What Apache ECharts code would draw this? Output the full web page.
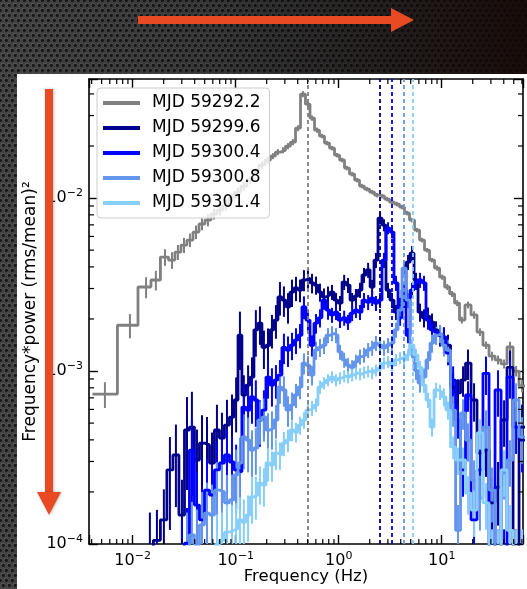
<!DOCTYPE html>
<html>
<head>
<meta charset="utf-8">
<script src="https://cdn.jsdelivr.net/npm/echarts@6/dist/echarts.min.js"></script>
<style>
  html, body { margin: 0; padding: 0; background: #2a2a2a; }
  #chart { width: 527px; height: 589px; }
</style>
</head>
<body>
<div id="chart"></div>
<script>
// ---- Power spectra (frequency * power, (rms/mean)^2) ----
const seriesNames = ['MJD 59292.2', 'MJD 59299.6', 'MJD 59300.4', 'MJD 59300.8', 'MJD 59301.4'];
const seriesColors = ['#808080', '#00008b', '#0000ff', '#6495ed', '#87cefa'];
// QPO centroid frequencies (Hz), one per observation
const qpoFreq = [0.503, 2.52, 3.27, 4.30, 5.22];

// First observation: its own frequency bins
const freqGray = [0.00538, 0.00941, 0.0135, 0.0168, 0.0206, 0.0241, 0.0275, 0.0315, 0.0360, 0.0412,
  0.0471, 0.0538, 0.0616, 0.0704, 0.0805, 0.0921, 0.105, 0.120, 0.138, 0.157,
  0.180, 0.206, 0.230, 0.257, 0.288, 0.322, 0.360, 0.403, 0.450, 0.503,
  0.551, 0.616, 0.688, 0.770, 0.861, 0.963, 1.08, 1.20, 1.35, 1.51,
  1.68, 1.88, 2.11, 2.35, 2.63, 2.94, 3.29, 3.68, 4.12, 4.60,
  5.15, 5.76, 6.44, 7.20, 8.05, 9.00, 10.1, 11.3, 12.6, 14.1,
  15.7, 18.0, 20.6, 23.5, 26.9, 30.8, 35.2, 40.3, 46.0, 52.7, 60.2];
const powGray = [7.36e-4, 1.84e-3, 3.06e-3, 3.36e-3, 4.56e-3, 4.38e-3, 4.87e-3, 5.35e-3, 5.72e-3, 6.36e-3,
  7.08e-3, 7.46e-3, 8.08e-3, 8.52e-3, 9.11e-3, 1.00e-2, 1.083e-2, 1.173e-2, 1.27e-2, 1.414e-2,
  1.55e-2, 1.66e-2, 1.749e-2, 1.845e-2, 1.89e-2, 1.998e-2, 2.107e-2, 2.538e-2, 3.99e-2, 3.49e-2,
  2.90e-2, 2.47e-2, 2.283e-2, 2.079e-2, 1.945e-2, 1.77e-2, 1.66e-2, 1.491e-2, 1.376e-2, 1.27e-2,
  1.173e-2, 1.127e-2, 1.083e-2, 1.04e-2, 1.027e-2, 9.87e-3, 9.48e-3, 9.23e-3, 8.87e-3, 8.19e-3,
  7.46e-3, 6.53e-3, 5.72e-3, 5.00e-3, 4.38e-3, 3.94e-3, 3.49e-3, 3.06e-3, 2.79e-3, 2.47e-3,
  1.97e-3, 2.41e-3, 2.11e-3, 1.68e-3, 1.41e-3, 1.22e-3, 1.16e-3, 1.10e-3, 1.38e-3, 1.00e-3, 8.2e-4];
// fractional 1-sigma errors
const errGray = [0.17, 0.16, 0.14, 0.13, 0.11, 0.11, 0.10, 0.10, 0.09, 0.09,
  0.08, 0.08, 0.07, 0.07, 0.07, 0.06, 0.06, 0.06, 0.05, 0.05,
  0.05, 0.05, 0.04, 0.04, 0.04, 0.04, 0.04, 0.04, 0.04, 0.04,
  0.035, 0.035, 0.03, 0.03, 0.03, 0.03, 0.03, 0.03, 0.03, 0.03,
  0.03, 0.03, 0.03, 0.03, 0.03, 0.03, 0.03, 0.03, 0.03, 0.03,
  0.03, 0.03, 0.03, 0.03, 0.03, 0.035, 0.035, 0.04, 0.04, 0.04,
  0.045, 0.045, 0.05, 0.05, 0.05, 0.06, 0.06, 0.06, 0.07, 0.07, 0.08];

// Later observations share one frequency grid
const freqBins = [0.0147, 0.0172, 0.0201, 0.0230, 0.0263, 0.0301, 0.0337, 0.0376, 0.0421, 0.0471,
  0.0527, 0.0589, 0.0658, 0.0736, 0.0823, 0.0921, 0.101, 0.110, 0.120, 0.132,
  0.144, 0.157, 0.172, 0.188, 0.206, 0.225, 0.246, 0.269, 0.294, 0.322,
  0.352, 0.385, 0.421, 0.460, 0.503, 0.551, 0.602, 0.658, 0.720, 0.787,
  0.861, 0.941, 1.03, 1.13, 1.23, 1.35, 1.47, 1.61, 1.76, 1.93,
  2.11, 2.30, 2.52, 2.75, 3.01, 3.29, 3.60, 3.94, 4.31, 4.71,
  5.15, 5.63, 6.16, 6.73, 7.36, 8.05, 8.81, 9.63, 10.5, 11.5,
  12.9, 14.4, 16.1, 18.0, 20.6, 23.5, 26.9, 30.8, 35.2, 40.3,
  46.0, 52.7, 60.2];

const powNavy = [9.5e-5, 1.05e-4, 1.38e-4, 2.68e-4, 3.27e-4, 1.47e-4, 4.56e-4, 4.74e-4, 3.06e-4, 3.83e-4,
  3.74e-4, 2.94e-4, 4.56e-4, 4.10e-4, 4.87e-4, 5.42e-4, 6.80e-4, 1.61e-3, 7.27e-4, 8.30e-4,
  9.23e-4, 1.73e-3, 1.89e-3, 1.37e-3, 1.41e-3, 1.73e-3, 1.97e-3, 2.68e-3, 2.57e-3, 2.35e-3,
  2.86e-3, 3.02e-3, 2.94e-3, 3.36e-3, 3.45e-3, 3.23e-3, 3.14e-3, 2.86e-3, 2.68e-3, 2.75e-3,
  2.86e-3, 2.57e-3, 2.47e-3, 3.27e-3, 3.14e-3, 2.57e-3, 2.71e-3, 2.94e-3, 3.59e-3, 3.84e-3,
  3.06e-3, 4.38e-3, 7.66e-3, 6.98e-3, 2.94e-3, 2.57e-3, 2.19e-3, 2.41e-3, 2.57e-3, 4.26e-3,
  4.80e-3, 3.36e-3, 2.19e-3, 2.03e-3, 2.08e-3, 1.92e-3, 1.73e-3, 1.61e-3, 1.55e-3, 1.41e-3,
  8.08e-4, 7.47e-4, 8.87e-4, 1.11e-3, 6.80e-4, 3.35e-4, 3.49e-4, 1.73e-4, 2.13e-4, 5.21e-4,
  1.05e-3, 8.1e-5, 4.74e-4];
const errNavy = [0.6, 0.5, 0.5, 0.55, 0.5, 0.6, 0.55, 0.6, 0.5, 0.45,
  0.45, 0.5, 0.4, 0.4, 0.4, 0.35, 0.35, 0.37, 0.3, 0.3,
  0.3, 0.3, 0.25, 0.25, 0.25, 0.22, 0.22, 0.22, 0.2, 0.2,
  0.18, 0.16, 0.15, 0.14, 0.13, 0.13, 0.12, 0.12, 0.12, 0.12,
  0.1, 0.1, 0.1, 0.1, 0.1, 0.1, 0.1, 0.1, 0.1, 0.1,
  0.1, 0.1, 0.08, 0.08, 0.1, 0.1, 0.1, 0.1, 0.1, 0.1,
  0.1, 0.1, 0.12, 0.12, 0.12, 0.12, 0.12, 0.14, 0.15, 0.15,
  0.2, 0.2, 0.2, 0.2, 0.25, 0.3, 0.3, 0.4, 0.4, 0.3,
  0.25, 0.5, 0.35];

const powBlue = [null, null, null, null, null, 8.6e-5, 1.01e-4, 3.49e-4, 1.68e-4, 1.38e-4,
  2.05e-4, 1.92e-4, 2.68e-4, 2.94e-4, 3.27e-4, 2.98e-4, 2.68e-4, 2.61e-4, 6.19e-4, 5.95e-4,
  7.08e-4, 6.80e-4, 5.21e-4, 5.95e-4, 9.23e-4, 8.30e-4, 8.87e-4, 9.48e-4, 1.37e-3, 1.32e-3,
  1.41e-3, 1.51e-3, 1.61e-3, 2.35e-3, 1.97e-3, 1.41e-3, 1.89e-3, 2.03e-3, 2.57e-3, 2.25e-3,
  2.11e-3, 2.19e-3, 1.97e-3, 2.03e-3, 1.92e-3, 2.16e-3, 2.25e-3, 2.19e-3, 2.57e-3, 2.50e-3,
  2.64e-3, 2.47e-3, 2.57e-3, 4.38e-3, 6.71e-3, 6.36e-3, 3.23e-3, 2.03e-3, 2.94e-3, 1.61e-3,
  2.94e-3, 3.27e-3, 3.36e-3, 3.23e-3, 1.97e-3, 1.73e-3, 1.68e-3, 1.61e-3, 1.57e-3, 1.27e-3,
  8.87e-4, 5.21e-4, 2.68e-4, 7.27e-4, 1.38e-4, 2.68e-4, 9.7e-4, 8.1e-5, 7.77e-4, 8.1e-5,
  9.23e-4, 4.74e-4, 3.99e-4];
const errBlue = [null, null, null, null, null, 0.6, 0.6, 0.5, 0.55, 0.55,
  0.5, 0.5, 0.45, 0.45, 0.4, 0.4, 0.4, 0.4, 0.35, 0.35,
  0.3, 0.3, 0.3, 0.3, 0.25, 0.25, 0.22, 0.22, 0.2, 0.2,
  0.18, 0.17, 0.16, 0.15, 0.14, 0.14, 0.13, 0.12, 0.12, 0.12,
  0.1, 0.1, 0.1, 0.1, 0.1, 0.1, 0.1, 0.1, 0.1, 0.1,
  0.1, 0.1, 0.1, 0.1, 0.08, 0.08, 0.1, 0.1, 0.1, 0.1,
  0.1, 0.1, 0.1, 0.1, 0.12, 0.12, 0.12, 0.13, 0.14, 0.15,
  0.2, 0.22, 0.3, 0.2, 0.35, 0.3, 0.25, 0.5, 0.3, 0.5,
  0.25, 0.3, 0.35];

const powCorn = [null, null, null, null, null, null, 9.5e-5, 1.13e-4, 9.9e-5, 1.29e-4,
  1.51e-4, 1.47e-4, 2.05e-4, 2.00e-4, 1.73e-4, 1.80e-4, 2.51e-4, 2.94e-4, 4.16e-4, 3.99e-4,
  3.49e-4, 3.59e-4, 5.21e-4, 5.42e-4, 4.56e-4, 4.68e-4, 5.21e-4, 8.08e-4, 7.77e-4, 5.95e-4,
  6.36e-4, 7.27e-4, 8.08e-4, 1.11e-3, 1.08e-3, 9.48e-4, 1.32e-3, 1.37e-3, 1.41e-3, 1.61e-3,
  1.65e-3, 1.61e-3, 1.29e-3, 1.16e-3, 1.08e-3, 1.05e-3, 1.13e-3, 1.21e-3, 1.24e-3, 1.32e-3,
  1.36e-3, 1.45e-3, 1.41e-3, 1.36e-3, 1.41e-3, 1.45e-3, 1.73e-3, 2.25e-3, 3.94e-3, 2.57e-3,
  1.32e-3, 1.01e-3, 8.52e-4, 9.23e-4, 1.16e-3, 1.45e-3, 1.61e-3, 1.65e-3, 1.41e-3, 1.32e-3,
  5.95e-4, 1.20e-4, 5.72e-4, 3.99e-4, 2.34e-4, 1.84e-4, 4.74e-4, 2.05e-4, 8.1e-5, 2.58e-4,
  3.06e-4, 6.80e-4, 4.16e-4];
const errCorn = [null, null, null, null, null, null, 0.6, 0.55, 0.6, 0.55,
  0.5, 0.5, 0.45, 0.45, 0.45, 0.4, 0.4, 0.4, 0.35, 0.35,
  0.3, 0.3, 0.28, 0.28, 0.25, 0.25, 0.22, 0.2, 0.2, 0.2,
  0.18, 0.16, 0.15, 0.14, 0.13, 0.13, 0.12, 0.12, 0.11, 0.1,
  0.1, 0.1, 0.1, 0.1, 0.1, 0.1, 0.1, 0.1, 0.1, 0.1,
  0.1, 0.1, 0.1, 0.1, 0.1, 0.1, 0.1, 0.1, 0.08, 0.1,
  0.1, 0.12, 0.12, 0.12, 0.12, 0.12, 0.12, 0.12, 0.14, 0.15,
  0.2, 0.4, 0.2, 0.25, 0.3, 0.35, 0.25, 0.35, 0.5, 0.3,
  0.3, 0.25, 0.3];

const powSky = [null, null, null, null, null, null, null, null, null, null,
  null, null, 9.9e-5, 1.05e-4, 1.17e-4, 1.20e-4, 1.23e-4, 1.38e-4, 1.34e-4, 1.47e-4,
  1.87e-4, 1.92e-4, 2.25e-4, 2.19e-4, 2.94e-4, 2.86e-4, 3.35e-4, 3.27e-4, 3.83e-4, 3.99e-4,
  4.56e-4, 4.44e-4, 4.87e-4, 5.21e-4, 5.95e-4, 6.11e-4, 6.36e-4, 8.08e-4, 8.52e-4, 8.87e-4,
  9.23e-4, 8.87e-4, 9.11e-4, 9.35e-4, 9.23e-4, 9.48e-4, 9.73e-4, 9.6e-4, 9.83e-4, 9.97e-4,
  9.73e-4, 1.01e-3, 1.04e-3, 1.11e-3, 1.13e-3, 1.08e-3, 1.16e-3, 1.19e-3, 1.16e-3, 1.24e-3,
  1.41e-3, 1.24e-3, 1.05e-3, 8.30e-4, 6.80e-4, 4.74e-4, 7.77e-4, 7.57e-4, 7.08e-4, 5.95e-4,
  3.64e-4, 3.06e-4, 3.06e-4, 1.97e-4, 1.57e-4, 4.39e-4, 1.73e-4, 8.1e-5, 8.1e-5, 2.68e-4,
  1.20e-4, 8.1e-5, 8.1e-5];
const errSky = [null, null, null, null, null, null, null, null, null, null,
  null, null, 0.5, 0.45, 0.45, 0.4, 0.4, 0.35, 0.35, 0.3,
  0.3, 0.28, 0.25, 0.25, 0.22, 0.2, 0.2, 0.18, 0.16, 0.15,
  0.14, 0.13, 0.12, 0.11, 0.1, 0.1, 0.09, 0.09, 0.08, 0.08,
  0.08, 0.08, 0.08, 0.08, 0.08, 0.08, 0.08, 0.08, 0.08, 0.08,
  0.08, 0.08, 0.08, 0.08, 0.08, 0.08, 0.08, 0.08, 0.08, 0.08,
  0.08, 0.08, 0.09, 0.1, 0.1, 0.12, 0.1, 0.1, 0.12, 0.12,
  0.15, 0.18, 0.18, 0.25, 0.3, 0.2, 0.3, 0.5, 0.5, 0.3,
  0.4, 0.5, 0.5];

// Minor tick positions (2..9 x 10^n) on both log axes
const xMinorTicks = [0.004, 0.005, 0.006, 0.007, 0.008, 0.009,
  0.02, 0.03, 0.04, 0.05, 0.06, 0.07, 0.08, 0.09,
  0.2, 0.3, 0.4, 0.5, 0.6, 0.7, 0.8, 0.9,
  2, 3, 4, 5, 6, 7, 8, 9,
  20, 30, 40, 50, 60];
const yMinorTicks = [2e-4, 3e-4, 4e-4, 5e-4, 6e-4, 7e-4, 8e-4, 9e-4,
  2e-3, 3e-3, 4e-3, 5e-3, 6e-3, 7e-3, 8e-3, 9e-3,
  2e-2, 3e-2, 4e-2];

const X_MIN = 0.00377, X_MAX = 61.5, Y_MIN = 1e-4, Y_MAX = 0.0488;
const FONT = 'DejaVu Sans';
const LINE_W = 2.8;

// Turn bin centres into a staircase (edges at geometric midpoints)
function stepLine(freq, pow) {
  const idx = [];
  for (let i = 0; i < freq.length; i++) if (pow[i] != null) idx.push(i);
  const pts = [];
  idx.forEach((i, k) => {
    const f = freq[i];
    const prev = k > 0 ? freq[idx[k - 1]] : null;
    const next = k < idx.length - 1 ? freq[idx[k + 1]] : null;
    const lo = prev ? Math.sqrt(prev * f) : f * Math.sqrt(f / next);
    const hi = next ? Math.sqrt(f * next) : f * Math.sqrt(f / prev);
    pts.push([lo, pow[i]], [hi, pow[i]]);
  });
  return pts;
}

function errorData(freq, pow, frac) {
  const out = [];
  for (let i = 0; i < freq.length; i++) {
    if (pow[i] == null || frac[i] == null) continue;
    out.push([freq[i], pow[i] * (1 - frac[i]), pow[i] * (1 + frac[i])]);
  }
  return out;
}

function renderErrorBar(params, api) {
  const cs = params.coordSys;
  const p1 = api.coord([api.value(0), api.value(1)]);
  const p2 = api.coord([api.value(0), api.value(2)]);
  const x = p1[0];
  if (x < cs.x || x > cs.x + cs.width) return;
  const top = cs.y, bot = cs.y + cs.height;
  const y1 = Math.min(Math.max(p1[1], top), bot);
  const y2 = Math.min(Math.max(p2[1], top), bot);
  if (Math.abs(y1 - y2) < 0.5) return;
  return {
    type: 'line',
    shape: { x1: x, y1: y1, x2: x, y2: y2 },
    style: { stroke: api.visual('color'), lineWidth: 2 }
  };
}

function renderMinorX(params, api) {
  const cs = params.coordSys;
  const x = api.coord([api.value(0), api.value(1)])[0];
  if (x <= cs.x + 0.5 || x >= cs.x + cs.width - 0.5) return;
  const t = cs.y, b = cs.y + cs.height;
  const st = { stroke: '#000', lineWidth: 1.2 };
  return { type: 'group', children: [
    { type: 'line', shape: { x1: x, y1: b, x2: x, y2: b - 5 }, style: st },
    { type: 'line', shape: { x1: x, y1: t, x2: x, y2: t + 5 }, style: st }
  ] };
}

function renderMinorY(params, api) {
  const cs = params.coordSys;
  const y = api.coord([api.value(0), api.value(1)])[1];
  if (y <= cs.y + 0.5 || y >= cs.y + cs.height - 0.5) return;
  const l = cs.x, r = cs.x + cs.width;
  const st = { stroke: '#000', lineWidth: 1.2 };
  return { type: 'group', children: [
    { type: 'line', shape: { x1: l, y1: y, x2: l + 5, y2: y }, style: st },
    { type: 'line', shape: { x1: r, y1: y, x2: r - 5, y2: y }, style: st }
  ] };
}

function powLabel(v) {
  const e = Math.log10(v);
  const r = Math.round(e);
  if (Math.abs(e - r) > 1e-6) return '';
  return '{b|10}{s|' + (r < 0 ? '\u2212' + (-r) : String(r)) + '}';
}

const labelRich = {
  b: { fontFamily: FONT, fontSize: 16, color: '#000', lineHeight: 20 },
  s: { fontFamily: FONT, fontSize: 11, color: '#000', lineHeight: 8, verticalAlign: 'top' }
};

// Carbon-mesh tile for the backdrop
function meshTile() {
  const c = document.createElement('canvas');
  c.width = 6; c.height = 10;
  const g = c.getContext('2d');
  g.fillStyle = '#3b3b3b';
  g.fillRect(0, 0, 6, 10);
  [[0, 0], [6, 0], [3, 5], [0, 10], [6, 10]].forEach(([x, y]) => {
    g.fillStyle = '#575757';
    g.beginPath(); g.arc(x, y, 2.5, 0, Math.PI * 2); g.fill();
    g.fillStyle = '#181818';
    g.beginPath(); g.arc(x + 0.3, y + 0.4, 1.7, 0, Math.PI * 2); g.fill();
  });
  return c;
}

const spectra = [
  { freq: freqGray, pow: powGray, err: errGray },
  { freq: freqBins, pow: powNavy, err: errNavy },
  { freq: freqBins, pow: powBlue, err: errBlue },
  { freq: freqBins, pow: powCorn, err: errCorn },
  { freq: freqBins, pow: powSky, err: errSky }
];

const series = [];
spectra.forEach((s, i) => {
  series.push({
    name: seriesNames[i],
    type: 'line',
    data: stepLine(s.freq, s.pow),
    showSymbol: false,
    symbol: 'none',
    color: seriesColors[i],
    lineStyle: { width: LINE_W, color: seriesColors[i] },
    silent: true,
    z: 2,
    markLine: {
      silent: true,
      symbol: ['none', 'none'],
      label: { show: false },
      lineStyle: { type: [4, 3], width: 1.8, color: seriesColors[i] },
      data: [{ xAxis: qpoFreq[i] }]
    }
  });
  series.push({
    type: 'custom',
    data: errorData(s.freq, s.pow, s.err),
    renderItem: renderErrorBar,
    encode: { x: 0, y: [1, 2] },
    itemStyle: { color: seriesColors[i] },
    silent: true,
    z: 2
  });
});
series.push({
  type: 'custom', silent: true, z: 6,
  data: xMinorTicks.map(v => [v, 1e-3]),
  encode: { x: 0, y: 1 },
  renderItem: renderMinorX
});
series.push({
  type: 'custom', silent: true, z: 6,
  data: yMinorTicks.map(v => [0.1, v]),
  encode: { x: 0, y: 1 },
  renderItem: renderMinorY
});

const axisLine = { show: true, lineStyle: { color: '#000', width: 1.6 } };
const majorTick = { show: true, inside: true, length: 9, lineStyle: { color: '#000', width: 1.4 } };

const option = {
  animation: false,
  textStyle: { fontFamily: FONT },
  grid: { left: 89, right: 4, top: 79, bottom: 45, containLabel: false, outerBoundsMode: 'none' },
  xAxis: [
    {
      type: 'log', logBase: 10, min: X_MIN, max: X_MAX, splitNumber: 4,
      position: 'bottom',
      axisLine: axisLine, axisTick: majorTick, splitLine: { show: false },
      axisLabel: { formatter: powLabel, margin: 7, rich: labelRich },
      name: 'Frequency (Hz)', nameLocation: 'middle', nameGap: 24, nameMoveOverlap: false,
      nameTextStyle: { fontFamily: FONT, fontSize: 16.5, color: '#000' }
    },
    {
      type: 'log', logBase: 10, min: X_MIN, max: X_MAX, splitNumber: 4,
      position: 'top',
      axisLine: axisLine, axisTick: majorTick, splitLine: { show: false },
      axisLabel: { show: false }
    }
  ],
  yAxis: [
    {
      type: 'log', logBase: 10, min: Y_MIN, max: Y_MAX, splitNumber: 3,
      position: 'left',
      axisLine: axisLine, axisTick: majorTick, splitLine: { show: false },
      axisLabel: { formatter: powLabel, margin: 6, rich: labelRich },
      name: 'Frequency*power (rms/mean)\u00B2', nameLocation: 'middle', nameGap: 50, nameMoveOverlap: false,
      nameTextStyle: { fontFamily: FONT, fontSize: 17, color: '#000' }
    },
    {
      type: 'log', logBase: 10, min: Y_MIN, max: Y_MAX, splitNumber: 3,
      position: 'right',
      axisLine: axisLine, axisTick: majorTick, splitLine: { show: false },
      axisLabel: { show: false }
    }
  ],
  legend: {
    data: seriesNames,
    orient: 'vertical',
    left: 97, top: 88,
    padding: [5, 9, 5, 6],
    itemGap: 5,
    itemWidth: 37, itemHeight: 4,
    icon: 'rect',
    backgroundColor: 'rgba(255,255,255,0.8)',
    borderColor: '#cccccc', borderWidth: 1, borderRadius: 4,
    textStyle: { fontFamily: FONT, fontSize: 17, color: '#000', lineHeight: 20, padding: [0, 0, 0, 7] },
    selectedMode: false
  },
  graphic: [
    { type: 'rect', z: -20, silent: true, shape: { x: 0, y: 0, width: 527, height: 589 },
      style: { fill: { image: meshTile(), repeat: 'repeat' } } },
    { type: 'rect', z: -19, silent: true, shape: { x: 0, y: 0, width: 527, height: 589 },
      style: { fill: new echarts.graphic.LinearGradient(0, 0, 1, 0, [
        { offset: 0, color: 'rgba(0,0,0,0)' },
        { offset: 0.4, color: 'rgba(0,0,0,0.2)' },
        { offset: 1, color: 'rgba(18,4,2,0.88)' }
      ]) } },
    { type: 'rect', z: -18, silent: true, shape: { x: 17, y: 74, width: 510, height: 515 },
      style: { fill: '#ffffff' } },
    // horizontal arrow
    { type: 'rect', z: 50, silent: true, shape: { x: 138, y: 16, width: 255, height: 8 },
      style: { fill: '#e84a24' } },
    { type: 'polygon', z: 50, silent: true, shape: { points: [[391, 8], [414, 20], [391, 32]] },
      style: { fill: '#e84a24' } },
    // vertical arrow
    { type: 'rect', z: 50, silent: true, shape: { x: 45, y: 89, width: 8, height: 404 },
      style: { fill: '#e84a24', shadowBlur: 3, shadowColor: 'rgba(0,0,0,0.25)', shadowOffsetX: 1 } },
    { type: 'polygon', z: 50, silent: true, shape: { points: [[37, 492], [61, 492], [49, 515]] },
      style: { fill: '#e84a24', shadowBlur: 3, shadowColor: 'rgba(0,0,0,0.25)', shadowOffsetX: 1 } }
  ],
  series: series
};

const chart = echarts.init(document.getElementById('chart'), null, { renderer: 'canvas' });
chart.setOption(option);
</script>
</body>
</html>
